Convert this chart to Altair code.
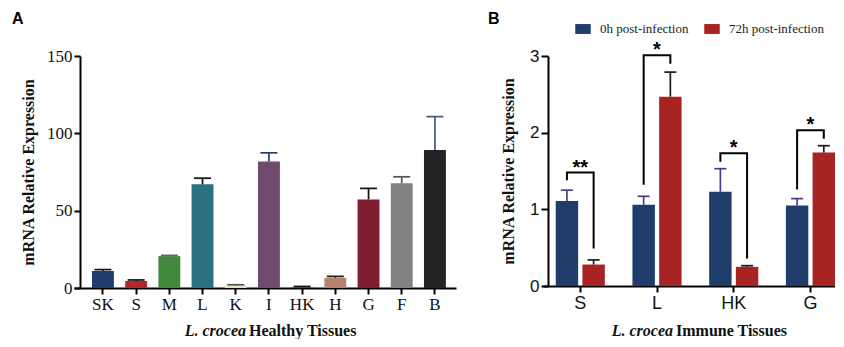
import altair as alt
import pandas as pd

SERIF = "Liberation Serif"
SANS = "Liberation Sans"

# ---------------- Panel A data ----------------
tissues_a = ["SK", "S", "M", "L", "K", "I", "HK", "H", "G", "F", "B"]
values_a = [11.0, 4.6, 20.6, 67.0, 1.6, 81.8, 0.6, 6.6, 57.3, 67.7, 89.3]
errors_a = [0.9, 0.6, 0.5, 4.0, 0.5, 5.6, 0.4, 0.9, 7.1, 4.2, 21.5]
fills_a = ["#1f3e6e", "#b2272a", "#42883d", "#2a7282", "#e9dfcd", "#6f4a6f",
           "#7a5a3c", "#b88270", "#7e1e2e", "#808382", "#232325"]
errcol_a = ["#111111", "#111111", "#666666", "#111111", "#555555", "#2a3e66",
            "#111111", "#222222", "#111111", "#555555", "#3d5a80"]

# ---------------- Panel B data ----------------
groups_b = ["S", "L", "HK", "G"]
series_b = ["0h post-infection", "72h post-infection"]
values_0h = [1.11, 1.06, 1.23, 1.05]
errors_0h = [0.14, 0.11, 0.30, 0.09]
values_72h = [0.28, 2.47, 0.25, 1.74]
errors_72h = [0.06, 0.32, 0.015, 0.09]
series_colors = ["#1e3d6b", "#a82323"]
series_errcolors = ["#4a3b8c", "#1a1a1a"]
bracket_top = [1.48, 3.01, 1.73, 2.03]
bracket_left = [1.38, 1.32, 1.62, 1.26]
bracket_right = [0.49, 2.90, 0.36, 1.92]
stars = ["**", "*", "*", "*"]

# ---------------- Panel A ----------------
dfa = pd.DataFrame({"tissue": tissues_a, "value": values_a, "err": errors_a,
                    "fill": fills_a, "ecol": errcol_a})

xa_axis = alt.Axis(title=None, labelAngle=0, labelFont=SERIF, labelFontSize=17,
                   labelColor="#111", domainWidth=2, domainColor="#000",
                   tickWidth=2, tickColor="#000", tickSize=6, labelPadding=2)
ya_axis = alt.Axis(values=list(range(0, 151, 25)),
                   labelExpr="datum.value % 50 == 0 ? datum.label : ''",
                   title="mRNA Relative Expression", titleFont=SERIF,
                   titleFontSize=16, titleFontWeight="bold", titleColor="#111",
                   titlePadding=10, labelFont=SERIF, labelFontSize=17,
                   labelColor="#111", domainWidth=2, domainColor="#000",
                   tickWidth=2, tickColor="#000", tickSize=6, labelPadding=2,
                   grid=False, offset=-6)

xa = alt.X("tissue:N", sort=tissues_a,
           scale=alt.Scale(paddingInner=0.34, paddingOuter=0.423, align=0.64),
           axis=xa_axis)
xa_plain = alt.X("tissue:N", sort=tissues_a)

baseA = alt.Chart(dfa).transform_calculate(top="datum.value + datum.err")
barsA = baseA.mark_bar(opacity=1).encode(
    x=xa,
    y=alt.Y("value:Q", scale=alt.Scale(domain=[0, 150], nice=False), axis=ya_axis),
    color=alt.Color("fill:N", scale=None))
errA = baseA.mark_rule(strokeWidth=1.7, opacity=1).encode(
    x=xa_plain, y="value:Q", y2="top:Q", color=alt.Color("ecol:N", scale=None))
capA = baseA.mark_tick(size=17, thickness=1.7, opacity=1).encode(
    x=xa_plain, y="top:Q", color=alt.Color("ecol:N", scale=None))

labA = alt.Chart(pd.DataFrame({"t": ["A"]})).mark_text(
    font=SANS, fontSize=16, fontWeight="bold", align="left", baseline="top",
    color="#000").encode(x=alt.value(-62), y=alt.value(-45), text="t:N")
xtA1 = alt.Chart(pd.DataFrame({"t": ["L. crocea"]})).mark_text(
    font=SERIF, fontSize=16, fontWeight="bold", fontStyle="italic", align="right",
    baseline="alphabetic", color="#111").encode(x=alt.value(172), y=alt.value(280), text="t:N")
xtA2 = alt.Chart(pd.DataFrame({"t": ["Healthy Tissues"]})).mark_text(
    font=SERIF, fontSize=16, fontWeight="bold", align="left",
    baseline="alphabetic", color="#111").encode(x=alt.value(175), y=alt.value(280), text="t:N")

chartA = alt.layer(barsA, errA, capA, labA, xtA1, xtA2).properties(width=382, height=232)

# ---------------- Panel B ----------------
rows = []
for i, g in enumerate(groups_b):
    rows.append({"group": g, "series": series_b[0], "value": values_0h[i],
                 "err": errors_0h[i], "ecol": series_errcolors[0]})
    rows.append({"group": g, "series": series_b[1], "value": values_72h[i],
                 "err": errors_72h[i], "ecol": series_errcolors[1]})
dfb = pd.DataFrame(rows)

br_rows = []
for i, g in enumerate(groups_b):
    br_rows.append({"group": g, "series": series_b[0], "y": bracket_left[i], "ord": 0})
    br_rows.append({"group": g, "series": series_b[0], "y": bracket_top[i], "ord": 1})
    br_rows.append({"group": g, "series": series_b[1], "y": bracket_top[i], "ord": 2})
    br_rows.append({"group": g, "series": series_b[1], "y": bracket_right[i], "ord": 3})
dfbr = pd.DataFrame(br_rows)
dfst = pd.DataFrame({"group": groups_b, "level": bracket_top, "star": stars})

xb_axis = alt.Axis(title=None, labelAngle=0, labelFont=SANS, labelFontSize=18,
                   labelColor="#111", domainWidth=2, domainColor="#000",
                   tickWidth=2, tickColor="#000", tickSize=6, labelPadding=2)
yb_axis = alt.Axis(values=[0, 1, 2, 3], format="d", title="mRNA Relative Expression",
                   titleFont=SERIF, titleFontSize=16, titleFontWeight="bold",
                   titleColor="#111", titlePadding=13, labelFont=SANS,
                   labelFontSize=17, labelColor="#111", domainWidth=2,
                   domainColor="#000", tickWidth=2, tickColor="#000", tickSize=7,
                   labelPadding=2, grid=False, offset=-5)

xb = alt.X("group:N", sort=groups_b,
           scale=alt.Scale(paddingInner=0.36, paddingOuter=0.083, align=1),
           axis=xb_axis)
xb_plain = alt.X("group:N", sort=groups_b)
xoff = alt.XOffset("series:N", sort=series_b,
                   scale=alt.Scale(paddingInner=0.16, paddingOuter=0))

baseB = alt.Chart(dfb).transform_calculate(top="datum.value + datum.err")
barsB = baseB.mark_bar(opacity=1).encode(
    x=xb, xOffset=xoff,
    y=alt.Y("value:Q", scale=alt.Scale(domain=[0, 3], nice=False), axis=yb_axis),
    color=alt.Color("series:N", sort=series_b,
                    scale=alt.Scale(domain=series_b, range=series_colors),
                    legend=alt.Legend(orient="none", legendX=501, legendY=-35,
                                      direction="horizontal", title=None,
                                      symbolType="M-1,-0.64H1V0.64H-1Z",
                                      symbolSize=240, symbolStrokeWidth=0,
                                      symbolOpacity=1,
                                      labelFont=SERIF, labelFontSize=13,
                                      labelColor="#222", columnPadding=15,
                                      labelOffset=9)))
errB = baseB.mark_rule(strokeWidth=1.7, opacity=1).encode(
    x=xb_plain, xOffset=xoff, y="value:Q", y2="top:Q",
    color=alt.Color("ecol:N", scale=None))
capB = baseB.mark_tick(size=12, thickness=1.7, opacity=1).encode(
    x=xb_plain, xOffset=xoff, y="top:Q", color=alt.Color("ecol:N", scale=None))
bracketB = alt.Chart(dfbr).mark_line(color="#000", strokeWidth=2).encode(
    x=xb_plain, xOffset=xoff, y="y:Q", order="ord:Q", detail="group:N")
starB = alt.Chart(dfst).mark_text(font=SANS, fontSize=20, fontWeight="bold",
                                  baseline="alphabetic", dy=1, color="#000").encode(
    x=xb_plain, y="level:Q", text="star:N")

labB = alt.Chart(pd.DataFrame({"t": ["B"]})).mark_text(
    font=SANS, fontSize=16, fontWeight="bold", align="left", baseline="top",
    color="#000").encode(x=alt.value(-55), y=alt.value(-45), text="t:N")
xtB1 = alt.Chart(pd.DataFrame({"t": ["L. crocea"]})).mark_text(
    font=SERIF, fontSize=16, fontWeight="bold", fontStyle="italic", align="right",
    baseline="alphabetic", color="#111").encode(x=alt.value(130), y=alt.value(280), text="t:N")
xtB2 = alt.Chart(pd.DataFrame({"t": ["Immune Tissues"]})).mark_text(
    font=SERIF, fontSize=16, fontWeight="bold", align="left",
    baseline="alphabetic", color="#111").encode(x=alt.value(133), y=alt.value(280), text="t:N")

chartB = alt.layer(barsB, errB, capB, bracketB, starB, labB, xtB1, xtB2).properties(
    width=292, height=230)

chart = alt.hconcat(chartA, chartB, spacing=32).properties(
    padding={"left": 4, "top": 3, "right": 0, "bottom": 0}
).configure_view(stroke=None)

chart.save("out.html", embed_options={"renderer": "svg", "actions": False})
